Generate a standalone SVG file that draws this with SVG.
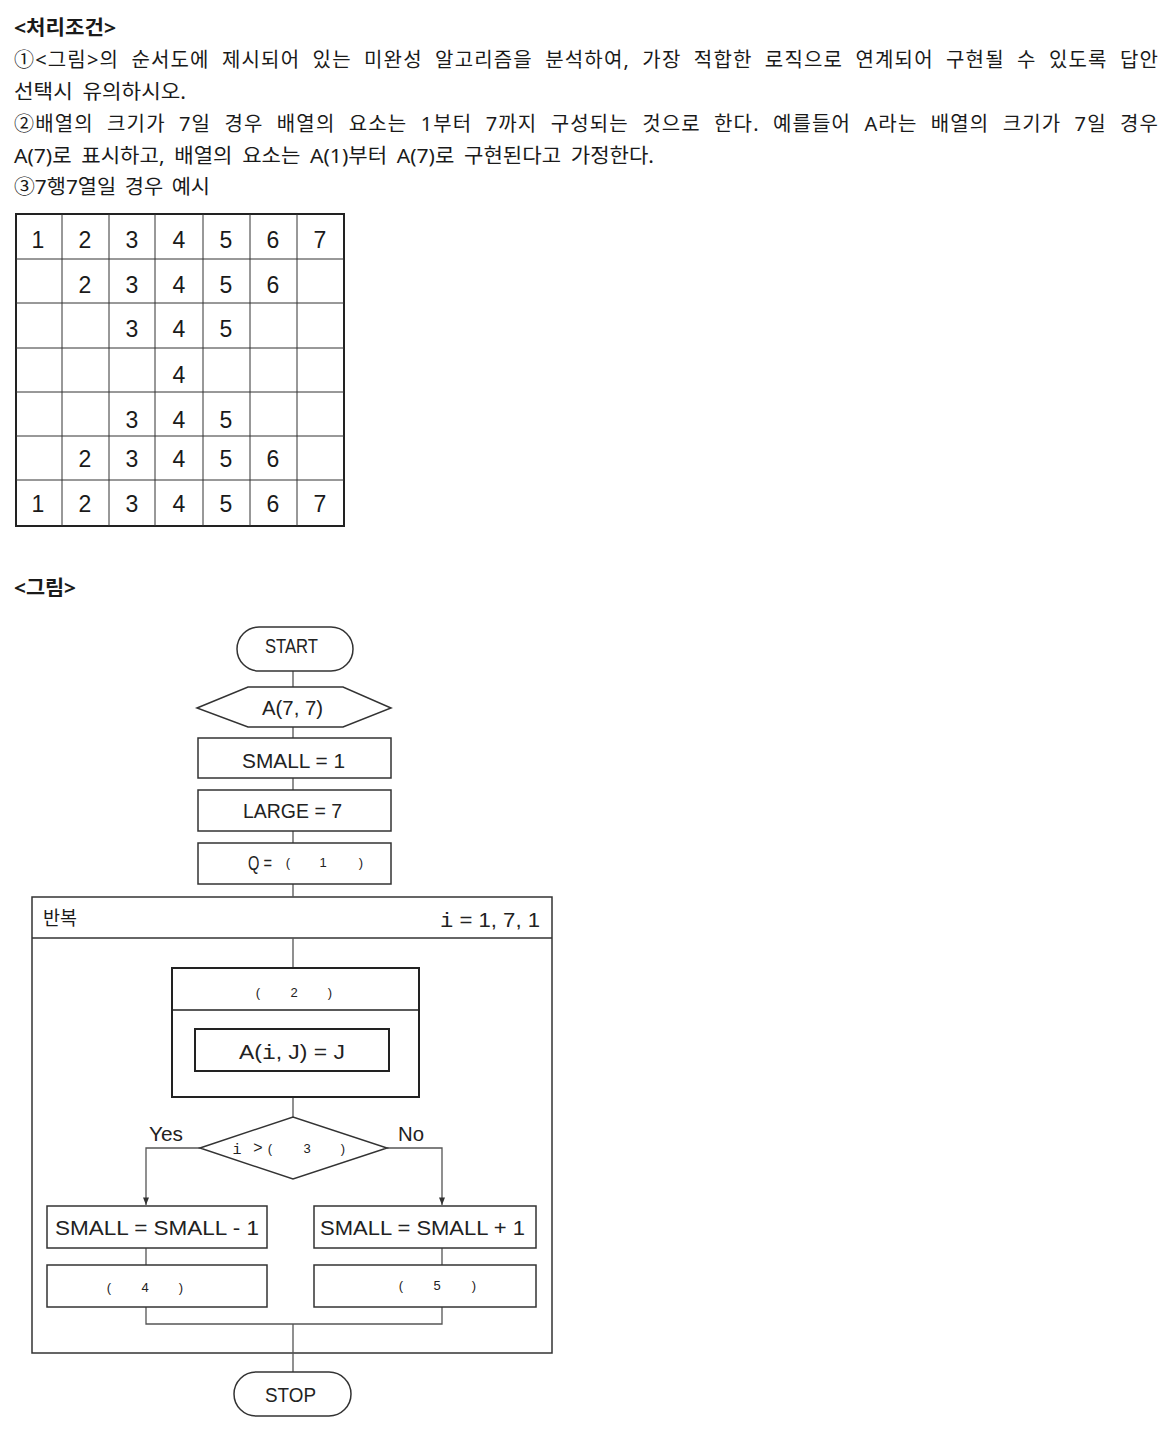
<svg xmlns="http://www.w3.org/2000/svg" width="1174" height="1439" viewBox="0 0 1174 1439">
<defs>
<style>
.kr{font-family:"Noto Sans","Noto Sans CJK KR",sans-serif;font-size:20px;fill:#1a1a1a;word-spacing:0}
.krb{font-weight:bold}
.num{font-family:"Liberation Sans",Arial,sans-serif;font-size:23px;fill:#1a1a1a;text-anchor:middle}
.lbl{font-family:"Liberation Sans",Arial,sans-serif;font-size:20px;fill:#222}
.big{font-size:21px}
.sm{font-family:"Liberation Sans",Arial,sans-serif;font-size:13px;fill:#222;text-anchor:middle}
.mono{font-family:"Liberation Mono",monospace}
.box{fill:#fff;stroke:#333;stroke-width:1.5}
.box2{fill:#fff;stroke:#222;stroke-width:2}
.ln{fill:none;stroke:#555;stroke-width:1.3}
.grid{stroke:#333;stroke-width:1;fill:none}
</style>
<marker id="arr" viewBox="0 0 10 8" refX="10" refY="4" markerWidth="8" markerHeight="6" orient="auto" markerUnits="userSpaceOnUse">
<path d="M0,0 L10,4 L0,8 z" fill="#333"/>
</marker>
</defs>
<rect x="0" y="0" width="1174" height="1439" fill="#fff"/>

<g id="conditions">
<text class="kr krb" x="14" y="35" textLength="102" lengthAdjust="spacingAndGlyphs">&lt;처리조건&gt;</text>
<text class="kr" x="14" y="67" textLength="1144" lengthAdjust="spacing" style="word-spacing:6px">①&lt;그림&gt;의 순서도에 제시되어 있는 미완성 알고리즘을 분석하여, 가장 적합한 로직으로 연계되어 구현될 수 있도록 답안</text>
<text class="kr" x="14" y="99" textLength="172" lengthAdjust="spacingAndGlyphs" style="word-spacing:4px">선택시 유의하시오.</text>
<text class="kr" x="14" y="131" textLength="1144" lengthAdjust="spacing" style="word-spacing:7px">②배열의 크기가 7일 경우 배열의 요소는 1부터 7까지 구성되는 것으로 한다. 예를들어 A라는 배열의 크기가 7일 경우</text>
<text class="kr" x="14" y="163" textLength="640" lengthAdjust="spacingAndGlyphs" style="word-spacing:4px">A(7)로 표시하고, 배열의 요소는 A(1)부터 A(7)로 구현된다고 가정한다.</text>
<text class="kr" x="14" y="194" textLength="196" lengthAdjust="spacingAndGlyphs" style="word-spacing:3px">③7행7열일 경우 예시</text>
</g>

<g id="example-table">
<rect x="16" y="214" width="328" height="312" fill="none" stroke="#222" stroke-width="2"/>
<path class="grid" d="M62,214V526M109,214V526M155,214V526M203,214V526M250,214V526M297,214V526M16,259H344M16,303H344M16,348H344M16,392H344M16,436H344M16,480H344"/>
<g class="num">
<text x="38" y="248">1</text><text x="85" y="248">2</text><text x="132" y="248">3</text><text x="179" y="248">4</text><text x="226" y="248">5</text><text x="273" y="248">6</text><text x="320" y="248">7</text>
<text x="85" y="293">2</text><text x="132" y="293">3</text><text x="179" y="293">4</text><text x="226" y="293">5</text><text x="273" y="293">6</text>
<text x="132" y="337">3</text><text x="179" y="337">4</text><text x="226" y="337">5</text>
<text x="179" y="383">4</text>
<text x="132" y="428">3</text><text x="179" y="428">4</text><text x="226" y="428">5</text>
<text x="85" y="467">2</text><text x="132" y="467">3</text><text x="179" y="467">4</text><text x="226" y="467">5</text><text x="273" y="467">6</text>
<text x="38" y="512">1</text><text x="85" y="512">2</text><text x="132" y="512">3</text><text x="179" y="512">4</text><text x="226" y="512">5</text><text x="273" y="512">6</text><text x="320" y="512">7</text>
</g>
</g>

<g id="figure-title">
<text class="kr krb" x="14" y="595" textLength="62" lengthAdjust="spacingAndGlyphs">&lt;그림&gt;</text>
</g>

<g id="loop">
<rect x="32" y="897" width="520" height="456" fill="#fff" stroke="#333" stroke-width="1.5"/>
<line x1="32" y1="938" x2="552" y2="938" stroke="#333" stroke-width="1.5"/>
<text class="kr" x="43" y="925" style="font-size:19px" textLength="34" lengthAdjust="spacingAndGlyphs">반복</text>
<text class="lbl" x="440" y="927" textLength="100" lengthAdjust="spacingAndGlyphs"><tspan class="mono">i</tspan> = 1, 7, 1</text>
</g>

<g id="connectors">
<path class="ln" d="M293,671V687M293,727V738M293,778V790M293,831V843M293,884V897M293,938V968M293,1010V1029M293,1071V1097M293,1097V1117"/>
<path class="ln" d="M200,1148H146V1205" marker-end="url(#arr)"/>
<path class="ln" d="M387,1148H442V1205" marker-end="url(#arr)"/>
<path class="ln" d="M146,1248V1265M442,1248V1265M146,1307V1324H442V1307M293,1324V1372"/>
</g>

<g id="start">
<rect class="box" x="237" y="627" width="116" height="44" rx="22"/>
<text class="lbl big" x="265" y="653" textLength="53" lengthAdjust="spacingAndGlyphs">START</text>
</g>

<g id="array-decl">
<polygon class="box" points="197,708 248,687 343,687 391,708 343,727 248,727"/>
<text class="lbl" x="262" y="715" textLength="61" lengthAdjust="spacingAndGlyphs">A(7, 7)</text>
</g>

<g id="small-init">
<rect class="box" x="198" y="738" width="193" height="40"/>
<text class="lbl" x="242" y="768" textLength="103" lengthAdjust="spacingAndGlyphs">SMALL = 1</text>
</g>

<g id="large-init">
<rect class="box" x="198" y="790" width="193" height="41"/>
<text class="lbl" x="243" y="818" textLength="99" lengthAdjust="spacingAndGlyphs">LARGE = 7</text>
</g>

<g id="q-init">
<rect class="box" x="198" y="843" width="193" height="41"/>
<text class="lbl" x="248" y="870" textLength="24" lengthAdjust="spacingAndGlyphs">Q =</text>
<text class="sm" x="288" y="867">(</text>
<text class="sm" x="323" y="867">1</text>
<text class="sm" x="361" y="867">)</text>
</g>

<g id="inner-loop">
<rect class="box2" x="172" y="968" width="247" height="129"/>
<line x1="172" y1="1010" x2="419" y2="1010" stroke="#222" stroke-width="1.5"/>
<text class="sm" x="258" y="997">(</text>
<text class="sm" x="294" y="997">2</text>
<text class="sm" x="330" y="997">)</text>
</g>

<g id="assign">
<rect class="box2" x="195" y="1029" width="194" height="42"/>
<text class="lbl" x="239" y="1059" textLength="106" lengthAdjust="spacingAndGlyphs">A(<tspan class="mono">i</tspan>, J) = J</text>
</g>

<g id="decision">
<polygon class="box" points="200,1148 293,1117 387,1148 293,1179"/>
<text class="sm mono" x="237" y="1154" style="font-size:15px">i</text>
<text class="sm" x="258" y="1153" style="font-size:16px">&gt;</text>
<text class="sm" x="270" y="1153">(</text>
<text class="sm" x="307" y="1153">3</text>
<text class="sm" x="343" y="1153">)</text>
<text class="lbl" x="149" y="1141" textLength="34" lengthAdjust="spacingAndGlyphs">Yes</text>
<text class="lbl" x="398" y="1141" textLength="26" lengthAdjust="spacingAndGlyphs">No</text>
</g>

<g id="small-dec">
<rect class="box" x="47" y="1206" width="220" height="42"/>
<text class="lbl" x="55" y="1235" textLength="204" lengthAdjust="spacingAndGlyphs">SMALL = SMALL - 1</text>
</g>

<g id="small-inc">
<rect class="box" x="314" y="1206" width="222" height="42"/>
<text class="lbl" x="320" y="1235" textLength="205" lengthAdjust="spacingAndGlyphs">SMALL = SMALL + 1</text>
</g>

<g id="blank4">
<rect class="box" x="47" y="1265" width="220" height="42"/>
<text class="sm" x="109" y="1292">(</text>
<text class="sm" x="145" y="1292">4</text>
<text class="sm" x="181" y="1292">)</text>
</g>

<g id="blank5">
<rect class="box" x="314" y="1265" width="222" height="42"/>
<text class="sm" x="401" y="1290">(</text>
<text class="sm" x="437" y="1290">5</text>
<text class="sm" x="474" y="1290">)</text>
</g>

<g id="stop">
<rect class="box" x="234" y="1372" width="117" height="44" rx="22"/>
<text class="lbl big" x="265" y="1402" textLength="51" lengthAdjust="spacingAndGlyphs">STOP</text>
</g>
</svg>
